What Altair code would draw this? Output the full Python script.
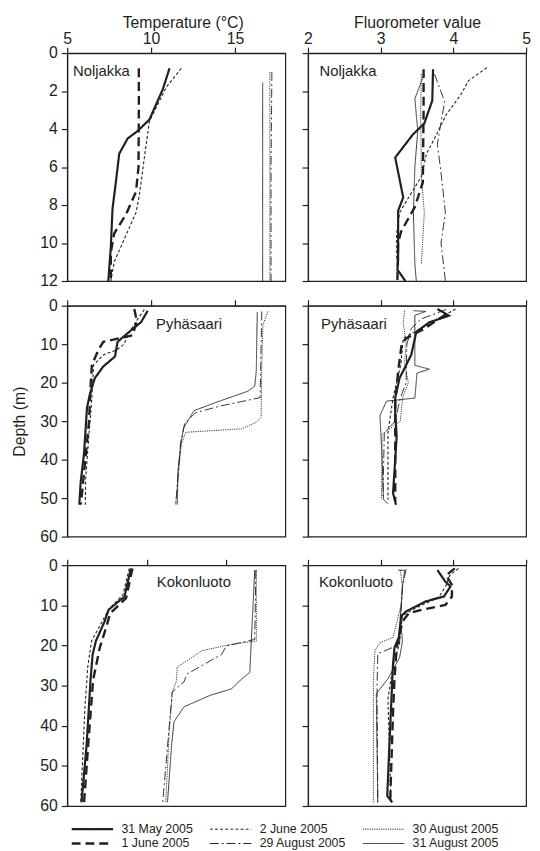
import altair as alt
import pandas as pd

# ---- series names ----
S1 = "31 May 2005"
S2 = "1 June 2005"
S3 = "2 June 2005"
S4 = "29 August 2005"
S5 = "30 August 2005"
S6 = "31 August 2005"
LEGEND_ORDER = [S1, S3, S5, S2, S4, S6]

# ---- data: (value, depth) pairs ----
NOLJAKKA_TEMP = {
    S1: [(11.1, 0.8), (10.7, 1.9), (9.9, 3.5), (9.2, 4.1), (8.6, 4.5), (8.1, 5.3), (7.9, 6.8), (7.7, 8.2), (7.6, 10.2), (7.45, 12)],
    S2: [(9.27, 0.8), (9.27, 3.0), (9.25, 6.0), (9.1, 7.3), (8.5, 8.5), (7.8, 9.5), (7.6, 10.5), (7.6, 12)],
    S3: [(11.8, 0.8), (10.9, 1.8), (9.9, 3.6), (9.6, 5.5), (9.3, 7.5), (9.1, 8.4), (7.8, 11.0), (7.6, 12)],
    S4: [(17.2, 1.0), (17.15, 6.0), (17.15, 12)],
    S5: [(17.08, 1.0), (17.08, 12)],
    S6: [(16.65, 1.55), (16.65, 12)],
}
NOLJAKKA_FLUOR = {
    S1: [(3.72, 0.85), (3.71, 2.5), (3.6, 3.7), (3.44, 4.3), (3.2, 5.5), (3.31, 7.6), (3.24, 8.3), (3.24, 10.9), (3.23, 11.4), (3.34, 12)],
    S2: [(3.59, 0.85), (3.59, 3.0), (3.58, 6.8), (3.47, 8.1), (3.28, 9.4), (3.24, 10.0), (3.23, 12)],
    S3: [(4.46, 0.77), (4.21, 1.45), (4.1, 2.2), (3.9, 3.25), (3.76, 4.35), (3.63, 5.3), (3.56, 6.5), (3.4, 7.5), (3.26, 8.4), (3.22, 9.5), (3.22, 10.8)],
    S4: [(3.74, 1.1), (3.88, 2.56), (3.81, 4.1), (3.78, 4.8), (3.83, 6.3), (3.89, 8.4), (3.83, 10.0), (3.89, 12)],
    S5: [(3.56, 1.1), (3.55, 3.0), (3.56, 6.5), (3.6, 8.4), (3.56, 11.1)],
    S6: [(3.6, 1.1), (3.47, 2.4), (3.51, 4.1), (3.47, 6.0), (3.45, 8.4), (3.47, 11.1), (3.49, 12)],
}
PYHASAARI_TEMP = {
    S1: [(9.8, 1.3), (9.4, 4.3), (8.8, 6.4), (8.0, 9.4), (7.85, 13.2), (7.15, 15.8), (6.65, 18.8), (6.35, 23), (6.18, 26.5), (6.0, 38.5), (5.8, 46), (5.72, 51.7)],
    S2: [(9.0, 0.85), (9.15, 4.0), (8.9, 7.7), (7.15, 9.4), (6.86, 11.5), (6.47, 15.4), (6.4, 20.5), (6.3, 30), (5.9, 48), (5.8, 51.7)],
    S3: [(9.6, 1.0), (9.2, 3.5), (8.6, 7.7), (8.4, 10), (7.9, 11.6), (7.15, 12.8), (6.57, 15.4), (6.47, 24), (6.27, 35), (6.1, 45), (6.08, 51.7)],
    S4: [(16.6, 1.5), (16.56, 10), (16.5, 23.9), (14.2, 26), (12.65, 27.8), (12.0, 30.6), (11.75, 36), (11.47, 51.7)],
    S5: [(16.96, 1.5), (16.66, 5.1), (16.6, 15), (16.56, 29), (16.27, 30.3), (15.39, 32), (12.06, 32.9), (11.8, 36), (11.6, 45), (11.47, 51.7)],
    S6: [(16.33, 1.7), (16.27, 17), (16.18, 20.9), (15.78, 22.2), (13.82, 25.2), (12.55, 27.3), (11.96, 31.6), (11.8, 35), (11.6, 43), (11.57, 51.7)],
}
PYHASAARI_FLUOR = {
    S1: [(3.78, 0.85), (3.94, 2.6), (3.67, 4.3), (3.49, 6.8), (3.42, 12.8), (3.26, 18.8), (3.2, 23.9), (3.2, 27.8), (3.22, 34), (3.17, 48.7), (3.21, 51.7)],
    S2: [(3.9, 2.2), (3.6, 6.0), (3.35, 8.5), (3.29, 9.8), (3.24, 17), (3.2, 25), (3.2, 40), (3.2, 51)],
    S3: [(4.03, 0.85), (3.7, 4.5), (3.45, 7.0), (3.31, 8.5), (3.28, 15), (3.17, 23.9), (3.1, 33), (3.1, 50.4)],
    S4: [(3.9, 1.0), (3.55, 3.5), (3.42, 6.0), (3.36, 10), (3.35, 20), (3.27, 24), (3.2, 30), (3.05, 33), (3.03, 50.4)],
    S5: [(3.33, 1.3), (3.31, 4.3), (3.35, 10), (3.33, 15), (3.38, 20), (3.3, 24), (3.27, 30), (3.02, 33.4), (3.01, 50.4)],
    S6: [(3.45, 1.3), (3.62, 1.5), (3.47, 2.5), (3.47, 15.5), (3.67, 16.5), (3.5, 17.5), (3.47, 24), (3.08, 24.8), (2.99, 28.6), (3.02, 40), (3.04, 50.4), (3.1, 51.5)],
}
KOKONLUOTO_TEMP = {
    S1: [(9.0, 0.8), (8.6, 7.8), (7.6, 11.1), (7.35, 14), (6.8, 18.9), (6.6, 22.2), (6.47, 28.3), (6.22, 44.7), (5.9, 59.1)],
    S2: [(9.1, 0.8), (8.7, 8.2), (7.7, 12), (7.5, 14.8), (7.05, 20.5), (6.63, 28.5), (6.32, 44.7), (6.06, 59.1)],
    S3: [(8.9, 0.8), (8.5, 7.4), (7.6, 11), (7.2, 14), (6.53, 18.9), (6.3, 25), (6.12, 34.9), (5.85, 59.1)],
    S4: [(16.85, 1.2), (16.78, 18.5), (15.0, 20.1), (14.7, 22.2), (12.53, 27.1), (12.33, 29.1), (11.6, 31.6), (11.4, 40.6), (11.0, 59.1)],
    S5: [(16.88, 1.2), (16.88, 18.9), (15.33, 19.7), (13.47, 21.3), (11.91, 25.4), (11.85, 29), (11.6, 31.6), (11.4, 42), (11.19, 59.1)],
    S6: [(16.78, 1.2), (16.47, 26.7), (15.75, 29.1), (15.33, 30.8), (13.99, 32.4), (12.33, 35.3), (11.71, 39), (11.56, 44.7), (11.3, 59.1)],
}
KOKONLUOTO_FLUOR = {
    S1: [(3.78, 1.2), (3.89, 4.1), (3.96, 5.3), (3.87, 7.8), (3.62, 9), (3.35, 11.5), (3.28, 12.7), (3.25, 18), (3.19, 20.5), (3.17, 24.6), (3.16, 28.3), (3.12, 44.7), (3.09, 57.5), (3.16, 59.1)],
    S2: [(4.02, 0.8), (3.9, 2.5), (3.98, 4.9), (3.98, 7.8), (3.89, 9.9), (3.57, 11.1), (3.39, 11.9), (3.3, 14), (3.22, 20.5), (3.19, 28.3), (3.17, 36.5), (3.13, 59.1)],
    S3: [(4.07, 0.8), (3.95, 2.5), (3.9, 5), (3.8, 8), (3.5, 10.5), (3.3, 12.5), (3.25, 20), (3.17, 25), (3.1, 33.3), (3.14, 59.1)],
    S4: [(3.35, 1.0), (3.3, 5), (3.28, 12), (3.26, 19.7), (3.1, 21), (2.96, 22), (2.95, 30), (2.96, 59.1)],
    S5: [(3.27, 1.2), (3.3, 5.7), (3.28, 10), (3.17, 18), (2.99, 19.3), (2.92, 21.3), (2.9, 28.3), (2.9, 59.1)],
    S6: [(3.24, 1.2), (3.33, 1.3), (3.3, 5.3), (3.27, 13), (3.3, 18.9), (3.26, 23), (3.1, 28.3), (2.94, 32), (2.96, 59.1)],
}

# site labels: (name, value, depth)
SITE_LABELS = [
    ("Noljakka", 5.35, 0.97), ("Noljakka", 2.16, 0.97),
    ("Pyhäsaari", 10.3, 4.9), ("Pyhäsaari", 2.18, 4.7),
    ("Kokonluoto", 10.63, 4.1), ("Kokonluoto", 2.15, 4.1),
]

# ---- styles ----
DASHES = {S1: [1, 0], S2: [9, 5], S3: [3, 2.2], S4: [9, 3, 2, 3], S5: [1.2, 1.1], S6: [1, 0]}
WIDTHS = {S1: 2.2, S2: 2.4, S3: 1.1, S4: 0.9, S5: 0.9, S6: 0.9}
INK = "#231f20"
FONT = "Liberation Sans"
W = 221


def to_df(series):
    rows = []
    for s, pts in series.items():
        for i, (v, d) in enumerate(pts):
            rows.append({"series": s, "v": v, "d": d, "i": i, "w": WIDTHS[s]})
    return pd.DataFrame(rows)


def panel(series, xdom, xticks, ydom, yticks, h, label, top_labels, xtitle,
          left, ytitle_visible, title_x=None):
    axis_kw = dict(orient="top", values=xticks, labels=top_labels,
                   title=xtitle if top_labels else None, labelFlush=False,
                   labelPadding=1, titlePadding=0)
    if title_x is not None:
        axis_kw["titleX"] = title_x
        axis_kw["titleAlign"] = "center"
    xaxis = alt.Axis(**axis_kw)
    if left:
        yaxis = alt.Axis(values=yticks, title="Depth (m)", labelPadding=4,
                         titlePadding=12, labelFlush=False,
                         titleColor=INK if ytitle_visible else "transparent")
    else:
        yaxis = alt.Axis(values=yticks, labels=False, title=None)
    X = alt.X("v:Q", scale=alt.Scale(domain=xdom, nice=False, zero=False), axis=xaxis)
    Y = alt.Y("d:Q", scale=alt.Scale(domain=ydom, nice=False, zero=False, reverse=True), axis=yaxis)
    dash = alt.StrokeDash(
        "series:N",
        scale=alt.Scale(domain=LEGEND_ORDER, range=[DASHES[s] for s in LEGEND_ORDER]),
        legend=alt.Legend(
            title=None, orient="none", legendX=4, legendY=780, columns=3,
            direction="horizontal", symbolType="stroke", symbolSize=1764,
            symbolStrokeColor=INK,
            symbolStrokeWidth=alt.ExprRef(
                f"(datum.value == '{S1}' || datum.value == '{S2}' ? 2.3 : 1)"),
            clipHeight=13, rowPadding=1.5, columnPadding=16, labelOffset=8,
            labelFontSize=12.5, labelFont=FONT, labelColor=INK, labelLimit=200,
        ),
    )
    lines = alt.Chart(to_df(series)).mark_line(stroke=INK).encode(
        x=X, y=Y, order="i:Q", strokeDash=dash,
        strokeWidth=alt.StrokeWidth("w:Q", scale=None),
    )
    name, lx, ly = label
    text = alt.Chart(pd.DataFrame({"t": [name], "v": [lx], "d": [ly]})).mark_text(
        align="left", baseline="middle", fontSize=15, font=FONT, color=INK
    ).encode(x=X, y=Y, text="t:N")
    return alt.layer(lines, text).properties(width=W, height=h)


TX = [5, 10, 15]
FX = [2, 3, 4, 5]
D12 = [0, 2, 4, 6, 8, 10, 12]
D60 = [0, 10, 20, 30, 40, 50, 60]

row1 = alt.hconcat(
    panel(NOLJAKKA_TEMP, [5, 18], TX, [0, 12], D12, 231, SITE_LABELS[0], True, "Temperature (°C)", True, False, title_x=117),
    panel(NOLJAKKA_FLUOR, [2, 5], FX, [0, 12], D12, 231, SITE_LABELS[1], True, "Fluorometer value", False, False),
    spacing=14,
).resolve_scale(strokeDash="shared")
row2 = alt.hconcat(
    panel(PYHASAARI_TEMP, [5, 18], TX, [0, 60], D60, 234, SITE_LABELS[2], False, None, True, True),
    panel(PYHASAARI_FLUOR, [2, 5], FX, [0, 60], D60, 234, SITE_LABELS[3], False, None, False, False),
    spacing=14,
).resolve_scale(strokeDash="shared")
row3 = alt.hconcat(
    panel(KOKONLUOTO_TEMP, [5, 18.7], TX, [0, 60], D60, 244, SITE_LABELS[4], False, None, True, False),
    panel(KOKONLUOTO_FLUOR, [2, 5], FX, [0, 60], D60, 244, SITE_LABELS[5], False, None, False, False),
    spacing=14,
).resolve_scale(strokeDash="shared")

upper = alt.vconcat(row1, row2, spacing=7).resolve_scale(strokeDash="shared")

chart = alt.vconcat(upper, row3, spacing=11).resolve_scale(
    strokeDash="shared"
).properties(
    padding={"left": 3, "top": 0, "right": 0, "bottom": 0}
).configure_view(
    stroke=INK, strokeWidth=1.2
).configure_axis(
    domainColor=INK, tickColor=INK, labelColor=INK, titleColor=INK,
    labelFont=FONT, titleFont=FONT, labelFontSize=16, titleFontSize=16,
    titleFontWeight="normal", tickSize=6, grid=False, domainWidth=1.2, tickWidth=1.2,
)

chart.save("out.html", embed_options={"renderer": "svg", "actions": False})
